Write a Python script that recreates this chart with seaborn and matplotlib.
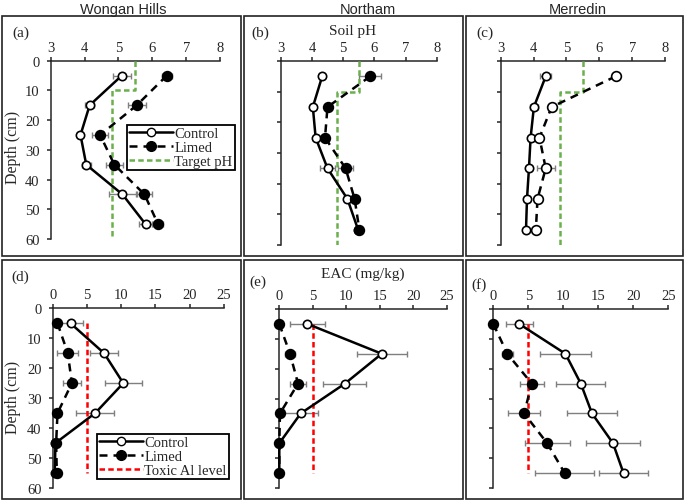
import matplotlib
matplotlib.use("Agg")
import matplotlib.pyplot as plt
from matplotlib.lines import Line2D
from matplotlib.patches import Rectangle
import seaborn as sns

# ---- data ----
depth = [5, 15, 25, 35, 45, 55]
site_names = ["Wongan Hills", "Northam", "Merredin"]

# soil pH (top row)
ph_control = {
    "Wongan Hills": [5.1, 4.15, 3.88, 4.05, 5.12, 5.8],
    "Northam": [4.33, 4.03, 4.12, 4.5, 5.14, 5.48],
    "Merredin": [4.37, 4.01, 3.91, 3.86, 3.8, 3.77],
}
ph_control_err = {
    "Wongan Hills": [0.27, 0.13, 0.05, 0.14, 0.4, 0.18],
    "Northam": [0.05, 0.05, 0.05, 0.25, 0.05, 0.05],
    "Merredin": [0.17, 0.12, 0.05, 0.05, 0.1, 0.05],
}
ph_limed = {
    "Wongan Hills": [6.43, 5.54, 4.46, 4.88, 5.77, 6.17],
    "Northam": [5.87, 4.5, 4.42, 5.08, 5.37, 5.52],
    "Merredin": [6.5, 4.55, 4.18, 4.37, 4.12, 4.07],
}
ph_limed_err = {
    "Wongan Hills": [0.14, 0.26, 0.23, 0.25, 0.23, 0.15],
    "Northam": [0.35, 0.05, 0.05, 0.24, 0.05, 0.05],
    "Merredin": [0.05, 0.05, 0.05, 0.27, 0.12, 0.12],
}
target_ph = [5.5, 5.5, 4.8, 4.8]
target_ph_depth = [0, 10, 10, 60]

# EAC mg/kg (bottom row)
eac_control = {
    "Wongan Hills": [2.6, 7.5, 10.3, 6.2, 0.4, 0.3],
    "Northam": [4.2, 15.3, 9.8, 3.2, 0.0, 0.0],
    "Merredin": [3.7, 10.3, 12.5, 14.1, 17.1, 18.6],
}
eac_control_err = {
    "Wongan Hills": [1.8, 2.1, 2.7, 2.8, 0.3, 0.2],
    "Northam": [2.6, 3.7, 3.2, 2.6, 0.0, 0.0],
    "Merredin": [1.9, 3.7, 3.5, 3.6, 3.9, 3.5],
}
eac_limed = {
    "Wongan Hills": [0.7, 2.2, 2.8, 0.7, 0.5, 0.6],
    "Northam": [0.0, 1.6, 2.8, 0.1, 0.0, 0.0],
    "Merredin": [0.0, 2.0, 5.5, 4.4, 7.7, 10.2],
}
eac_limed_err = {
    "Wongan Hills": [0.3, 1.5, 1.3, 0.3, 0.3, 0.3],
    "Northam": [0.0, 0.8, 1.2, 0.1, 0.0, 0.0],
    "Merredin": [0.0, 0.8, 1.7, 2.3, 3.2, 4.2],
}
toxic_al = [5, 5]
toxic_al_depth = [5, 55]

# ---- style ----
sns.set_theme(style="ticks")
plt.rcParams["font.family"] = ["Liberation Serif", "DejaVu Serif"]
plt.rcParams["axes.linewidth"] = 1.1

W, H = 685, 502
fig = plt.figure(figsize=(W / 100, H / 100), dpi=100)


def px_rect(x0, y0, x1, y1):
    return [x0 / W, 1 - y1 / H, (x1 - x0) / W, (y1 - y0) / H]


def fx(x):
    return x / W


def fy(y):
    return 1 - y / H


# panel borders
for x0, x1 in [(1.5, 241), (244, 463), (466, 683)]:
    for y0, y1 in [(17, 257), (261, 500)]:
        fig.patches.append(Rectangle((fx(x0), fy(y1)), (x1 - x0) / W, (y1 - y0) / H,
                                     transform=fig.transFigure, fill=False,
                                     edgecolor="#222222", linewidth=1.2))

top_pos = [(50.7, 61.7, 220, 240), (280.7, 62, 436.7, 246), (500.7, 62, 665, 246)]
bot_pos = [(52.7, 309.3, 224, 489), (279.3, 310, 446.7, 489), (493.3, 310, 668.3, 489)]

ERR = "#7f7f7f"
GREEN = "#6ab04c"
RED = "#ff0000"
LIMED_DASH = (0, (3.2, 2.4))
REF_DASH = (0, (2.2, 1.3))


def setup_axis(ax, xlim, xticks, show_y):
    ax.set_xlim(*xlim)
    ax.set_ylim(60, 0)
    ax.set_xticks(xticks)
    ax.set_yticks(range(0, 61, 10))
    ax.xaxis.tick_top()
    for s in ["right", "bottom"]:
        ax.spines[s].set_visible(False)
    ax.tick_params(axis="x", direction="out", length=3, width=1.1, pad=2, labelsize=10.5)
    ax.tick_params(axis="y", direction="out", length=3, width=1.1, pad=5, labelsize=10.5)
    if not show_y:
        ax.set_yticklabels([])
    ax.set_xlabel("")
    ax.set_ylabel("")
    ax.set_facecolor("none")


def draw_profiles(ax, ctrl, ctrl_err, lim, lim_err, limed_open=False):
    ax.errorbar(ctrl, depth, xerr=ctrl_err, fmt="none", ecolor=ERR, elinewidth=1,
                capsize=2.5, capthick=1, zorder=2)
    ax.errorbar(lim, depth, xerr=lim_err, fmt="none", ecolor=ERR, elinewidth=1,
                capsize=2.5, capthick=1, zorder=2)
    sns.lineplot(x=ctrl, y=depth, ax=ax, sort=False, estimator=None, color="black",
                 linewidth=1.8, marker="o", markersize=6, markerfacecolor="white",
                 markeredgecolor="black", markeredgewidth=1.2, zorder=4, clip_on=False)
    sns.lineplot(x=lim, y=depth, ax=ax, sort=False, estimator=None, color="black",
                 linewidth=1.8, linestyle=LIMED_DASH, marker="o", markersize=7,
                 markerfacecolor="white" if limed_open else "black",
                 markeredgecolor="black", markeredgewidth=1.2, zorder=4, clip_on=False)


# top row: soil pH
for i, (site, pos) in enumerate(zip(site_names, top_pos)):
    ax = fig.add_axes(px_rect(*pos))
    sns.lineplot(x=target_ph, y=target_ph_depth, ax=ax, sort=False, estimator=None,
                 color=GREEN, linewidth=1.8, linestyle=REF_DASH, zorder=3)
    draw_profiles(ax, ph_control[site], ph_control_err[site], ph_limed[site],
                  ph_limed_err[site], limed_open=(site == "Merredin"))
    setup_axis(ax, (3, 8), range(3, 9), i == 0)
    if i == 0:
        handles = [
            Line2D([], [], color="black", lw=1.8, marker="o", ms=6, mfc="white", mec="black"),
            Line2D([], [], color="black", lw=1.8, ls=LIMED_DASH, marker="o", ms=7, mfc="black"),
            Line2D([], [], color=GREEN, lw=1.8, ls=REF_DASH),
        ]
        leg = ax.legend(handles, ["Control", "Limed", "Target pH"],
                        loc="upper left", bbox_to_anchor=(fx(127), fy(126)),
                        bbox_transform=fig.transFigure, fontsize=10.5, frameon=True,
                        fancybox=False, edgecolor="black", framealpha=1,
                        handlelength=3.0, handletextpad=0.1, borderpad=0.15,
                        labelspacing=0.05, borderaxespad=0)
        leg.get_frame().set_linewidth(1.3)

# bottom row: EAC
for i, (site, pos) in enumerate(zip(site_names, bot_pos)):
    ax = fig.add_axes(px_rect(*pos))
    sns.lineplot(x=toxic_al, y=toxic_al_depth, ax=ax, sort=False, estimator=None,
                 color=RED, linewidth=1.8, linestyle=REF_DASH, zorder=3)
    draw_profiles(ax, eac_control[site], eac_control_err[site], eac_limed[site],
                  eac_limed_err[site])
    setup_axis(ax, (0, 25), range(0, 26, 5), i == 0)
    if i == 0:
        handles = [
            Line2D([], [], color="black", lw=1.8, marker="o", ms=6, mfc="white", mec="black"),
            Line2D([], [], color="black", lw=1.8, ls=LIMED_DASH, marker="o", ms=7, mfc="black"),
            Line2D([], [], color=RED, lw=1.8, ls=REF_DASH),
        ]
        leg = ax.legend(handles, ["Control", "Limed", "Toxic Al level"],
                        loc="upper left", bbox_to_anchor=(fx(97), fy(435)),
                        bbox_transform=fig.transFigure, fontsize=10.5, frameon=True,
                        fancybox=False, edgecolor="black", framealpha=1,
                        handlelength=3.0, handletextpad=0.1, borderpad=0.15,
                        labelspacing=0.05, borderaxespad=0)
        leg.get_frame().set_linewidth(1.3)

# titles and labels
for name, x in zip(site_names, [123, 368, 578]):
    fig.text(fx(x), fy(10), name, ha="center", va="center", fontsize=10.5,
             family="Liberation Sans")
fig.text(fx(353), fy(32), "Soil pH", ha="center", va="center", fontsize=11)
fig.text(fx(363), fy(274), "EAC (mg/kg)", ha="center", va="center", fontsize=11)
for lab, x, y in [("(a)", 12.7, 33), ("(b)", 251.7, 33), ("(c)", 476.7, 33),
                  ("(d)", 11.7, 277), ("(e)", 249, 282), ("(f)", 471.7, 285)]:
    fig.text(fx(x), fy(y), lab, ha="left", va="center", fontsize=11)
for y in [147, 397]:
    fig.text(fx(13), fy(y), "Depth (cm)", ha="center", va="center", rotation=90,
             fontsize=11.5)

fig.savefig("out.png", dpi=100)
